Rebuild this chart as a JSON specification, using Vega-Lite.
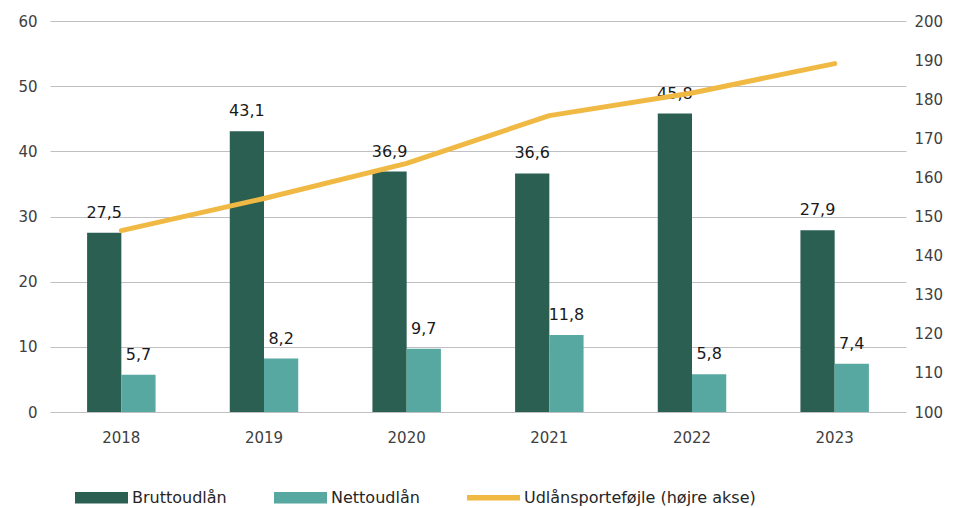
{
  "$schema": "https://vega.github.io/schema/vega-lite/v6.json",
  "autosize": "none",
  "width": 856,
  "height": 391,
  "padding": {"left": 50, "top": 21, "right": 61, "bottom": 96},
  "background": "white",
  "config": {
    "locale": {"number": {"decimal": ",", "thousands": ".", "grouping": [3], "currency": ["", ""]}},
    "font": "DejaVu Sans",
    "view": {"stroke": null},
    "axis": {"labelFont": "DejaVu Sans", "labelFontSize": 15, "labelColor": "#404040", "ticks": false, "domain": false, "title": null}
  },
  "data": {
    "values": [
      {"year": "2018", "serie": "Bruttoudlån", "value": 27.5},
      {"year": "2019", "serie": "Bruttoudlån", "value": 43.1},
      {"year": "2020", "serie": "Bruttoudlån", "value": 36.9},
      {"year": "2021", "serie": "Bruttoudlån", "value": 36.6},
      {"year": "2022", "serie": "Bruttoudlån", "value": 45.8},
      {"year": "2023", "serie": "Bruttoudlån", "value": 27.9},
      {"year": "2018", "serie": "Nettoudlån", "value": 5.7},
      {"year": "2019", "serie": "Nettoudlån", "value": 8.2},
      {"year": "2020", "serie": "Nettoudlån", "value": 9.7},
      {"year": "2021", "serie": "Nettoudlån", "value": 11.8},
      {"year": "2022", "serie": "Nettoudlån", "value": 5.8},
      {"year": "2023", "serie": "Nettoudlån", "value": 7.4},
      {"year": "2018", "serie": "Udlånsporteføjle (højre akse)", "value": 146.4},
      {"year": "2019", "serie": "Udlånsporteføjle (højre akse)", "value": 154.6},
      {"year": "2020", "serie": "Udlånsporteføjle (højre akse)", "value": 163.6},
      {"year": "2021", "serie": "Udlånsporteføjle (højre akse)", "value": 175.8},
      {"year": "2022", "serie": "Udlånsporteføjle (højre akse)", "value": 181.6},
      {"year": "2023", "serie": "Udlånsporteføjle (højre akse)", "value": 189.1}
    ]
  },
  "encoding": {
    "x": {
      "field": "year", "type": "nominal",
      "scale": {"paddingInner": 0.52, "paddingOuter": 0.26},
      "axis": {"labelAngle": 0, "labelPadding": 18, "grid": false}
    }
  },
  "layer": [
    {
      "transform": [{"filter": "datum.serie !== 'Udlånsporteføjle (højre akse)'"}],
      "encoding": {
        "xOffset": {"field": "serie", "type": "nominal", "scale": {"domain": ["Bruttoudlån", "Nettoudlån"], "paddingInner": 0}},
        "y": {
          "field": "value", "type": "quantitative",
          "scale": {"domain": [0, 60], "nice": false},
          "axis": {"orient": "left", "values": [0, 10, 20, 30, 40, 50, 60], "grid": true, "gridColor": "#c0c0c4", "gridWidth": 1, "labelPadding": 13}
        }
      },
      "layer": [
        {
          "mark": {"type": "bar"},
          "encoding": {
            "color": {
              "field": "serie", "type": "nominal",
              "scale": {
                "domain": ["Bruttoudlån", "Nettoudlån", "Udlånsporteføjle (højre akse)"],
                "range": ["#2a5f52", "#57a8a1", "#f0b944"]
              },
              "legend": {
                "orient": "none",
                "legendX": 25,
                "legendY": 450,
                "direction": "horizontal",
                "title": null,
                "columns": 3,
                "columnPadding": 47,
                "padding": 0,
                "labelFont": "DejaVu Sans",
                "labelFontSize": 16,
                "labelColor": "#262626",
                "labelLimit": 400,
                "symbolSize": 2809,
                "symbolOffset": 0,
                "labelOffset": 4,
                "symbolType": "M-1,-0.22H1V0.22H-1Z",
                "encode": {
                  "symbols": {
                    "update": {
                      "fill": {"scale": "color", "field": "value"},
                      "strokeWidth": {"value": 0},
                      "shape": {"signal": "datum.value === 'Udlånsporteføjle (højre akse)' ? 'M-1,-0.1H1V0.1H-1Z' : 'M-1,-0.22H1V0.22H-1Z'"}
                    }
                  }
                }
              }
            }
          }
        },
        {
          "mark": {"type": "text", "baseline": "alphabetic", "dy": -15, "fontSize": 16, "color": "#1a1a1a", "font": "DejaVu Sans"},
          "encoding": {
            "text": {"field": "value", "type": "quantitative", "format": ".1f"}
          }
        }
      ]
    },
    {
      "transform": [{"filter": "datum.serie === 'Udlånsporteføjle (højre akse)'"}],
      "mark": {"type": "line", "strokeWidth": 5, "strokeCap": "round", "strokeJoin": "round"},
      "encoding": {
        "y": {
          "field": "value", "type": "quantitative",
          "scale": {"domain": [100, 200], "nice": false, "zero": false},
          "axis": {"orient": "right", "values": [100, 110, 120, 130, 140, 150, 160, 170, 180, 190, 200], "grid": false, "labelPadding": 8}
        },
        "color": {"field": "serie", "type": "nominal"}
      }
    }
  ],
  "resolve": {"scale": {"y": "independent"}}
}
